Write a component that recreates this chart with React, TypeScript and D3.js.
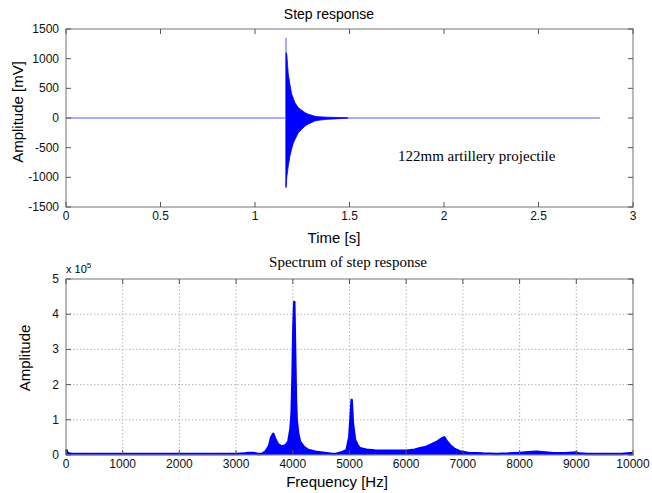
import React, { useEffect, useRef } from 'react';
import * as d3 from 'd3';

// step response: flat baseline plus burst envelope (mV)
const baseT = [0, 2.825];
const baseV = [0, 0];
const burstT = [1.164, 1.168, 1.176, 1.185, 1.194, 1.203, 1.212, 1.229, 1.238, 1.265, 1.28, 1.317, 1.333, 1.38, 1.423, 1.476, 1.49];
const burstUpper = [1100, 1080, 742, 560, 405, 330, 253, 175, 152, 90, 67, 30, 22, 14, 10, 6, 3];
const burstLower = [-1175, -1000, -810, -640, -520, -420, -360, -250, -220, -135, -105, -50, -40, -22, -15, -5, -3];
const spikeT = 1.164;
const spikeRange = [-1150, 1350];

const timeTicks = [0, 0.5, 1, 1.5, 2, 2.5, 3];
const mvTicks = [-1500, -1000, -500, 0, 500, 1000, 1500];

// spectrum (amplitude in units of 1e5)
const specF = [0, 30, 100, 1000, 2000, 3000, 3150, 3200, 3300, 3380, 3450, 3520, 3580, 3620, 3656, 3690, 3740, 3804, 3870, 3921, 3960, 3980, 3995, 4010, 4026, 4040, 4055, 4068, 4095, 4127, 4200, 4274, 4400, 4597, 4700, 4760, 4850, 4950, 4997, 5020, 5038, 5060, 5097, 5140, 5185, 5300, 5450, 5597, 5800, 6000, 6150, 6243, 6350, 6420, 6550, 6630, 6672, 6720, 6772, 6850, 6949, 7100, 7357, 7600, 7800, 8000, 8150, 8300, 8450, 8600, 8800, 9000, 9050, 9200, 9500, 9800, 9950, 10000];
const specA = [0.16, 0.05, 0.03, 0.03, 0.03, 0.03, 0.04, 0.06, 0.06, 0.03, 0.03, 0.1, 0.25, 0.5, 0.6, 0.45, 0.3, 0.24, 0.27, 0.38, 0.75, 1.2, 2.2, 3.6, 4.35, 3.0, 1.6, 1.0, 0.6, 0.38, 0.22, 0.14, 0.09, 0.05, 0.03, 0.03, 0.07, 0.14, 0.52, 1.1, 1.56, 0.9, 0.43, 0.28, 0.19, 0.15, 0.13, 0.12, 0.12, 0.12, 0.15, 0.19, 0.23, 0.28, 0.38, 0.47, 0.5, 0.38, 0.28, 0.17, 0.1, 0.06, 0.04, 0.03, 0.04, 0.06, 0.08, 0.09, 0.07, 0.05, 0.05, 0.07, 0.04, 0.03, 0.03, 0.03, 0.05, 0.05];

const freqTicks = [0, 1000, 2000, 3000, 4000, 5000, 6000, 7000, 8000, 9000, 10000];
const ampTicks = [0, 1, 2, 3, 4, 5];

const SANS = 'Liberation Sans, Arial, sans-serif';
const SERIF = 'Liberation Serif, Times New Roman, serif';

const App = () => {
    const ref = useRef<SVGSVGElement>(null);

    useEffect(() => {
        const svg = d3.select(ref.current);
        svg.selectAll('*').remove();

        const left = 66, right = 633;

        // frame + inward ticks on all sides (matlab box)
        const drawBox = (g, x, y, xTicks, yTicks, xFmt) => {
            const [x0, x1] = x.range();
            const [y0, y1] = y.range();
            const tl = 5;
            g.append('rect')
                .attr('x', x0).attr('y', y1)
                .attr('width', x1 - x0).attr('height', y0 - y1)
                .attr('fill', 'none').attr('stroke', '#8a8a8a').attr('stroke-width', 1.2);
            xTicks.forEach(t => {
                g.append('line').attr('x1', x(t)).attr('x2', x(t)).attr('y1', y0).attr('y2', y0 - tl).attr('stroke', '#555');
                g.append('line').attr('x1', x(t)).attr('x2', x(t)).attr('y1', y1).attr('y2', y1 + tl).attr('stroke', '#555');
                g.append('text').attr('x', x(t)).attr('y', y0 + 13)
                    .attr('text-anchor', 'middle').attr('font-family', SANS).attr('font-size', 12)
                    .attr('fill', '#111').text(xFmt(t));
            });
            yTicks.forEach(t => {
                g.append('line').attr('x1', x0).attr('x2', x0 + tl).attr('y1', y(t)).attr('y2', y(t)).attr('stroke', '#555');
                g.append('line').attr('x1', x1).attr('x2', x1 - tl).attr('y1', y(t)).attr('y2', y(t)).attr('stroke', '#555');
                g.append('text').attr('x', x0 - 7).attr('y', y(t) + 4)
                    .attr('text-anchor', 'end').attr('font-family', SANS).attr('font-size', 12)
                    .attr('fill', '#111').text(String(t));
            });
        };

        // ---- top: step response
        const xT = d3.scaleLinear().domain([0, 3]).range([left, right]);
        const yT = d3.scaleLinear().domain([-1500, 1500]).range([207, 29]);
        const top = svg.append('g');

        top.append('rect').attr('x', left).attr('y', 29).attr('width', right - left).attr('height', 178).attr('fill', '#fff');

        top.append('path')
            .datum(baseT.map((t, i) => [t, baseV[i]]))
            .attr('d', d3.line().x(d => xT(d[0])).y(d => yT(d[1])))
            .attr('fill', 'none').attr('stroke', '#5a5aff').attr('stroke-width', 1.2);

        top.append('line')
            .attr('x1', xT(spikeT)).attr('x2', xT(spikeT))
            .attr('y1', yT(spikeRange[0])).attr('y2', yT(spikeRange[1]))
            .attr('stroke', '#a9a9ff').attr('stroke-width', 2);

        top.append('path')
            .datum(burstT.map((t, i) => ({ t, hi: burstUpper[i], lo: burstLower[i] })))
            .attr('d', d3.area().x(d => xT(d.t)).y0(d => yT(d.lo)).y1(d => yT(d.hi)))
            .attr('fill', '#0000ff').attr('stroke', '#0000ff').attr('stroke-width', 0.8);

        drawBox(top, xT, yT, timeTicks, mvTicks, d => String(d));

        top.append('text').attr('x', 329).attr('y', 19).attr('text-anchor', 'middle')
            .attr('font-family', SANS).attr('font-size', 14).text('Step response');
        top.append('text').attr('x', 334).attr('y', 243).attr('text-anchor', 'middle')
            .attr('font-family', SANS).attr('font-size', 15).text('Time [s]');
        top.append('text').attr('transform', 'translate(23,112) rotate(-90)').attr('text-anchor', 'middle')
            .attr('font-family', SANS).attr('font-size', 15).text('Amplitude [mV]');
        top.append('text').attr('x', 398).attr('y', 161)
            .attr('font-family', SERIF).attr('font-size', 15).text('122mm artillery projectile');

        // ---- bottom: spectrum
        const xF = d3.scaleLinear().domain([0, 10000]).range([left, right]);
        const yF = d3.scaleLinear().domain([0, 5]).range([455, 279]);
        const bot = svg.append('g');

        freqTicks.slice(1, -1).forEach(t => {
            bot.append('line').attr('x1', xF(t)).attr('x2', xF(t)).attr('y1', 279).attr('y2', 455)
                .attr('stroke', '#b5b5b5').attr('stroke-dasharray', '1.5,2');
        });
        ampTicks.slice(1, -1).forEach(t => {
            bot.append('line').attr('x1', left).attr('x2', right).attr('y1', yF(t)).attr('y2', yF(t))
                .attr('stroke', '#b5b5b5').attr('stroke-dasharray', '1.5,2');
        });

        const spec = specF.map((f, i) => [f, specA[i]]);
        bot.append('path')
            .datum(spec)
            .attr('d', d3.area().x(d => xF(d[0])).y0(yF(0)).y1(d => yF(d[1])))
            .attr('fill', '#0000ff');
        bot.append('path')
            .datum(spec)
            .attr('d', d3.line().x(d => xF(d[0])).y(d => yF(d[1])))
            .attr('fill', 'none').attr('stroke', '#0000ff').attr('stroke-width', 2.5).attr('stroke-linejoin', 'round');

        drawBox(bot, xF, yF, freqTicks, ampTicks, d => String(d));

        bot.append('text').attr('x', 348).attr('y', 267).attr('text-anchor', 'middle')
            .attr('font-family', SERIF).attr('font-size', 15).text('Spectrum of step response');
        const mult = bot.append('text').attr('x', 66).attr('y', 273)
            .attr('font-family', SANS).attr('font-size', 11);
        mult.append('tspan').text('x 10');
        mult.append('tspan').attr('dy', -5).attr('font-size', 8).text('5');
        bot.append('text').attr('x', 337).attr('y', 487).attr('text-anchor', 'middle')
            .attr('font-family', SANS).attr('font-size', 15).text('Frequency [Hz]');
        bot.append('text').attr('transform', 'translate(30,358) rotate(-90)').attr('text-anchor', 'middle')
            .attr('font-family', SANS).attr('font-size', 15).text('Amplitude');
    }, []);

    return (
        <svg ref={ref} width={652} height={493}
            style={{ position: 'absolute', left: 0, top: 0, background: '#fff' }} />
    );
};

export default App;
